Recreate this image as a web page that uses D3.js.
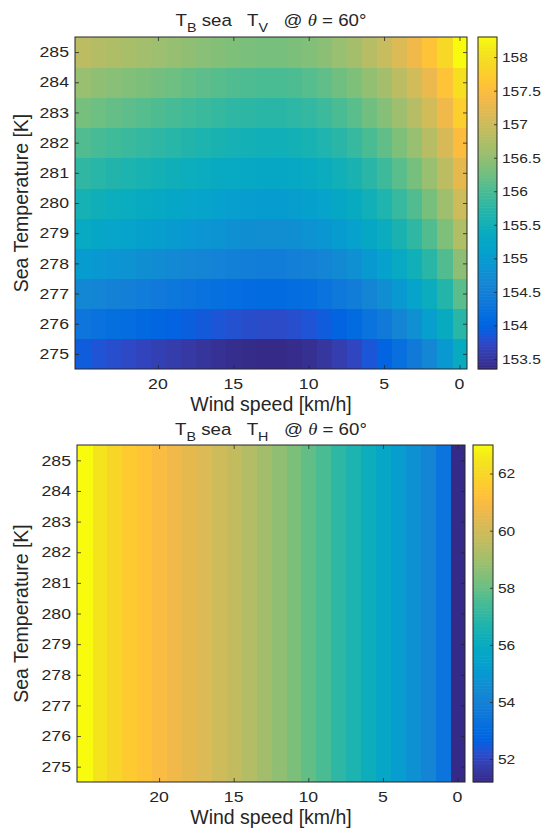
<!DOCTYPE html>
<html>
<head>
<meta charset="utf-8">
<script src="https://cdn.jsdelivr.net/npm/d3@7"></script>
<style>
  body { margin: 0; background: #fff; }
  text { font-family: "Liberation Sans", Arial, Helvetica, sans-serif; fill: #262626; white-space: pre; }
</style>
</head>
<body>
<svg id="chart" width="550" height="833"></svg>
<script>
// ---------------- data ----------------
const windSpeeds = [0,1,2,3,4,5,6,7,8,9,10,11,12,13,14,15,16,17,18,19,20,21,22,23,24,25];
const seaTemps = [275,276,277,278,279,280,281,282,283,284,285];

// T_B (vertical pol.), rows = seaTemps, columns = windSpeeds
const tbV = [
  [155.35,154.95,154.65,154.40,154.20,154.00,153.85,153.70,153.60,153.50,153.43,153.38,153.35,153.35,153.37,153.40,153.44,153.48,153.53,153.58,153.63,153.68,153.73,153.78,153.83,153.90],
  [155.75,155.35,155.05,154.80,154.60,154.40,154.25,154.10,154.00,153.90,153.83,153.78,153.75,153.75,153.77,153.80,153.84,153.88,153.93,153.98,154.03,154.08,154.13,154.18,154.23,154.30],
  [156.10,155.70,155.40,155.15,154.95,154.75,154.60,154.45,154.35,154.25,154.18,154.13,154.10,154.10,154.12,154.15,154.19,154.23,154.28,154.33,154.38,154.43,154.48,154.53,154.58,154.65],
  [156.45,156.05,155.75,155.50,155.30,155.10,154.95,154.80,154.70,154.60,154.53,154.48,154.45,154.45,154.47,154.50,154.54,154.58,154.63,154.68,154.73,154.78,154.83,154.88,154.93,155.00],
  [156.75,156.35,156.05,155.80,155.60,155.40,155.25,155.10,155.00,154.90,154.83,154.78,154.75,154.75,154.77,154.80,154.84,154.88,154.93,154.98,155.03,155.08,155.13,155.18,155.23,155.30],
  [157.00,156.60,156.30,156.05,155.85,155.65,155.50,155.35,155.25,155.15,155.08,155.03,155.00,155.00,155.02,155.05,155.09,155.13,155.18,155.23,155.28,155.33,155.38,155.43,155.48,155.55],
  [157.25,156.85,156.55,156.30,156.10,155.90,155.75,155.60,155.50,155.40,155.33,155.28,155.25,155.25,155.27,155.30,155.34,155.38,155.43,155.48,155.53,155.58,155.63,155.68,155.73,155.80],
  [157.50,157.10,156.80,156.55,156.35,156.15,156.00,155.85,155.75,155.65,155.58,155.53,155.50,155.50,155.52,155.55,155.59,155.63,155.68,155.73,155.78,155.83,155.88,155.93,155.98,156.05],
  [157.75,157.35,157.05,156.80,156.60,156.40,156.25,156.10,156.00,155.90,155.83,155.78,155.75,155.75,155.77,155.80,155.84,155.88,155.93,155.98,156.03,156.08,156.13,156.18,156.23,156.30],
  [158.00,157.60,157.30,157.05,156.85,156.65,156.50,156.35,156.25,156.15,156.08,156.03,156.00,156.00,156.02,156.05,156.09,156.13,156.18,156.23,156.28,156.33,156.38,156.43,156.48,156.55],
  [158.30,157.90,157.60,157.35,157.15,156.95,156.80,156.65,156.55,156.45,156.38,156.33,156.30,156.30,156.32,156.35,156.39,156.43,156.48,156.53,156.58,156.63,156.68,156.73,156.78,156.85]
];

// T_B (horizontal pol.), rows = seaTemps, columns = windSpeeds
const tbH = [
  [51.2,53.4,54.2,54.7,55.2,55.7,56.2,56.6,57.0,57.5,57.9,58.3,58.65,59.0,59.35,59.7,59.95,60.25,60.5,60.75,61.0,61.3,61.6,62.0,62.4,63.0],
  [51.2,53.4,54.2,54.7,55.2,55.7,56.2,56.6,57.0,57.5,57.9,58.3,58.65,59.0,59.35,59.7,59.95,60.25,60.5,60.75,61.0,61.3,61.6,62.0,62.4,63.0],
  [51.2,53.4,54.2,54.7,55.2,55.7,56.2,56.6,57.0,57.5,57.9,58.3,58.65,59.0,59.35,59.7,59.95,60.25,60.5,60.75,61.0,61.3,61.6,62.0,62.4,63.0],
  [51.2,53.4,54.2,54.7,55.2,55.7,56.2,56.6,57.0,57.5,57.9,58.3,58.65,59.0,59.35,59.7,59.95,60.25,60.5,60.75,61.0,61.3,61.6,62.0,62.4,63.0],
  [51.2,53.4,54.2,54.7,55.2,55.7,56.2,56.6,57.0,57.5,57.9,58.3,58.65,59.0,59.35,59.7,59.95,60.25,60.5,60.75,61.0,61.3,61.6,62.0,62.4,63.0],
  [51.2,53.4,54.2,54.7,55.2,55.7,56.2,56.6,57.0,57.5,57.9,58.3,58.65,59.0,59.35,59.7,59.95,60.25,60.5,60.75,61.0,61.3,61.6,62.0,62.4,63.0],
  [51.2,53.4,54.2,54.7,55.2,55.7,56.2,56.6,57.0,57.5,57.9,58.3,58.65,59.0,59.35,59.7,59.95,60.25,60.5,60.75,61.0,61.3,61.6,62.0,62.4,63.0],
  [51.2,53.4,54.2,54.7,55.2,55.7,56.2,56.6,57.0,57.5,57.9,58.3,58.65,59.0,59.35,59.7,59.95,60.25,60.5,60.75,61.0,61.3,61.6,62.0,62.4,63.0],
  [51.2,53.4,54.2,54.7,55.2,55.7,56.2,56.6,57.0,57.5,57.9,58.3,58.65,59.0,59.35,59.7,59.95,60.25,60.5,60.75,61.0,61.3,61.6,62.0,62.4,63.0],
  [51.2,53.4,54.2,54.7,55.2,55.7,56.2,56.6,57.0,57.5,57.9,58.3,58.65,59.0,59.35,59.7,59.95,60.25,60.5,60.75,61.0,61.3,61.6,62.0,62.4,63.0],
  [51.2,53.4,54.2,54.7,55.2,55.7,56.2,56.6,57.0,57.5,57.9,58.3,58.65,59.0,59.35,59.7,59.95,60.25,60.5,60.75,61.0,61.3,61.6,62.0,62.4,63.0]
];

const xTickValues = [20,15,10,5,0];
const yTickValues = [275,276,277,278,279,280,281,282,283,284,285];
const vColorTicks = [153.5,154,154.5,155,155.5,156,156.5,157,157.5,158];
const hColorTicks = [52,54,56,58,60,62];

// MATLAB parula colormap (64 entries)
const parula = ["#352a87","#363093","#3637a0","#353dad","#3243ba","#2c4ac7","#2053d4","#0f5cdd",
  "#0363e1","#0268e1","#046de0","#0871de","#0d75dc","#1079da","#127dd8","#1481d6",
  "#1485d4","#1389d3","#108ed2","#0c93d2","#0998d1","#079ccf","#06a0cd","#06a4ca",
  "#06a7c6","#07a9c2","#0aacbe","#0faeb9","#15b1b4","#1db3af","#25b5a9","#2eb7a4",
  "#38b99e","#42bb98","#4dbc92","#59bd8c","#65be86","#71bf80","#7cbf7b","#87bf77",
  "#92bf73","#9cbf6f","#a5be6b","#aebe67","#b7bd64","#c0bc60","#c8bc5d","#d1bb59",
  "#d9ba56","#e1b952","#e9b94e","#f1b94a","#f8bb44","#fdbe3d","#ffc337","#fec832",
  "#fcce2e","#fad32a","#f7d826","#f5de21","#f5e41d","#f5eb18","#f6f313","#f9fb0e"];

// ---------------- drawing ----------------
const svg = d3.select("#chart");
const INK = "#262626";

function addText(g, x, y, str, opts) {
  const o = Object.assign({size: 14, anchor: "middle", sx: 1, sy: 1, rotate: 0, dy: "0"}, opts || {});
  let tr = `translate(${x},${y})`;
  if (o.rotate) tr += ` rotate(${o.rotate})`;
  tr += ` scale(${o.sx},${o.sy})`;
  return g.append("text")
    .attr("transform", tr)
    .attr("text-anchor", o.anchor)
    .attr("dy", o.dy)
    .style("font-size", o.size + "px")
    .text(str);
}

function drawPanel(cfg) {
  const g = svg.append("g");
  const x = d3.scaleLinear().domain([25.5, -0.5]).range([cfg.left, cfg.right]);
  const y = d3.scaleLinear().domain([274.5, 285.5]).range([cfg.bottom, cfg.top]);
  const ext = d3.extent(cfg.data.flat());
  const color = d3.scaleLinear()
    .domain(parula.map((_, i) => ext[0] + (ext[1] - ext[0]) * i / (parula.length - 1)))
    .range(parula)
    .clamp(true);

  // cells
  const cells = [];
  cfg.data.forEach((row, i) => row.forEach((v, j) => cells.push({t: seaTemps[i], w: windSpeeds[j], v})));
  g.append("g").selectAll("rect").data(cells).join("rect")
    .attr("x", d => x(d.w + 0.5))
    .attr("y", d => y(d.t + 0.5))
    .attr("width", d => Math.abs(x(d.w - 0.5) - x(d.w + 0.5)) + 0.6)
    .attr("height", d => Math.abs(y(d.t - 0.5) - y(d.t + 0.5)) + 0.6)
    .attr("fill", d => color(d.v))
    .attr("shape-rendering", "crispEdges");

  // clip overflow at right/bottom edges
  g.append("rect").attr("x", cfg.right).attr("y", cfg.top - 2).attr("width", 3).attr("height", cfg.bottom - cfg.top + 6).attr("fill", "#fff");
  g.append("rect").attr("x", cfg.left - 2).attr("y", cfg.bottom).attr("width", cfg.right - cfg.left + 6).attr("height", 3).attr("fill", "#fff");

  // axes (ticks inward on all four sides)
  const tl = 4;
  const axB = d3.axisBottom(x).tickValues(xTickValues).tickSize(-tl).tickFormat("");
  const axT = d3.axisTop(x).tickValues(xTickValues).tickSize(-tl).tickFormat("");
  const axL = d3.axisLeft(y).tickValues(yTickValues).tickSize(-tl).tickFormat("");
  const axR = d3.axisRight(y).tickValues(yTickValues).tickSize(-tl).tickFormat("");
  [[axB, `translate(0,${cfg.bottom})`], [axT, `translate(0,${cfg.top})`],
   [axL, `translate(${cfg.left},0)`], [axR, `translate(${cfg.right},0)`]].forEach(([ax, tr]) => {
    const a = g.append("g").attr("transform", tr).call(ax);
    a.select(".domain").remove();
    a.selectAll("line").attr("stroke", INK).attr("stroke-width", 0.8);
  });
  g.append("rect").attr("x", cfg.left).attr("y", cfg.top)
    .attr("width", cfg.right - cfg.left).attr("height", cfg.bottom - cfg.top)
    .attr("fill", "none").attr("stroke", INK).attr("stroke-width", 1);

  // tick labels
  xTickValues.forEach(v => addText(g, x(v), cfg.bottom + 20, String(v), {size: 14.5, sx: 1.22}));
  yTickValues.forEach(v => addText(g, cfg.left - 6, y(v), String(v), {size: 14.5, sx: 1.22, anchor: "end", dy: "0.36em"}));

  // axis labels
  addText(g, (cfg.left + cfg.right) / 2, cfg.bottom + 42, "Wind speed [km/h]", {size: 19.5});
  addText(g, 21, (cfg.top + cfg.bottom) / 2, "Sea Temperature [K]", {size: 19.5, rotate: -90, dy: "0.35em"});

  // title with subscripts
  const tt = g.append("text")
    .attr("transform", `translate(${(cfg.left + cfg.right) / 2},${cfg.titleY}) scale(1.1,1)`)
    .attr("text-anchor", "middle")
    .style("font-size", "17px");
  tt.append("tspan").text("T");
  tt.append("tspan").text("B").style("font-size", "13px").attr("dy", "6");
  tt.append("tspan").text(" sea   T").attr("dy", "-6");
  tt.append("tspan").text(cfg.pol).style("font-size", "13px").attr("dy", "6");
  tt.append("tspan").text("   @ ").attr("dy", "-6");
  tt.append("tspan").text("θ").style("font-style", "italic").style("font-family", "'Liberation Serif', 'Times New Roman', serif");
  tt.append("tspan").text(" = 60°");

  // colorbar
  const cb = d3.scaleLinear().domain(ext).range([cfg.bottom, cfg.top]);
  const N = 220;
  const slices = d3.range(N).map(k => ext[0] + (ext[1] - ext[0]) * (k + 0.5) / N);
  const sh = (cfg.bottom - cfg.top) / N;
  g.append("g").selectAll("rect").data(slices).join("rect")
    .attr("x", cfg.cbLeft).attr("width", cfg.cbRight - cfg.cbLeft)
    .attr("y", d => cb(d) - sh / 2 - 0.3).attr("height", sh + 0.6)
    .attr("fill", d => color(d));
  const axC = d3.axisRight(cb).tickValues(cfg.cTicks).tickSize(-3).tickFormat("");
  const ac = g.append("g").attr("transform", `translate(${cfg.cbRight},0)`).call(axC);
  ac.select(".domain").remove();
  ac.selectAll("line").attr("stroke", INK).attr("stroke-width", 0.8);
  g.append("rect").attr("x", cfg.cbLeft).attr("y", cfg.top)
    .attr("width", cfg.cbRight - cfg.cbLeft).attr("height", cfg.bottom - cfg.top)
    .attr("fill", "none").attr("stroke", INK).attr("stroke-width", 1);
  cfg.cTicks.forEach(v => addText(g, cfg.cbRight + 5, cb(v), String(v), {size: 13.5, sx: 1.15, anchor: "start", dy: "0.36em"}));
}

drawPanel({data: tbV, pol: "V", cTicks: vColorTicks,
  left: 75, right: 467, top: 37, bottom: 369, cbLeft: 478, cbRight: 497, titleY: 26});
drawPanel({data: tbH, pol: "H", cTicks: hColorTicks,
  left: 77, right: 465, top: 445, bottom: 782, cbLeft: 473, cbRight: 493, titleY: 435});
</script>
</body>
</html>
